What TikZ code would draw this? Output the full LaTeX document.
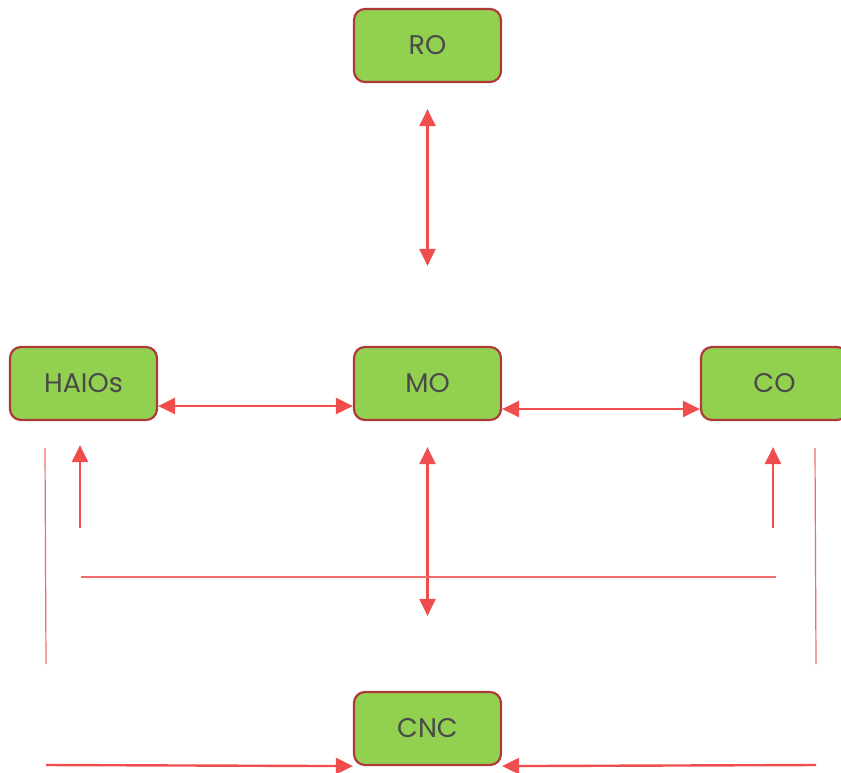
\documentclass[tikz,border=0pt]{standalone}
\usepackage{fontspec}
\setmainfont{Poppins}
\usepackage{xcolor}
\usepackage{tikz}
\usetikzlibrary{arrows.meta,positioning}
\definecolor{boxgreen}{HTML}{92D050}
\definecolor{boxred}{HTML}{B03A3A}
\definecolor{linkred}{HTML}{F04E4E}
\definecolor{thinred}{HTML}{F26A6A}
\definecolor{textgray}{HTML}{4A4A4A}

\begin{document}
\begin{tikzpicture}[x=1pt,y=-1pt,>={Triangle[length=17pt,width=16pt]},
  unit/.style={draw=boxred,line width=2.2pt,fill=boxgreen,rounded corners=11pt,
    minimum width=147pt,minimum height=73pt,text=textgray,font=\fontsize{27}{30}\selectfont},
  link/.style={draw=linkred,line width=2.4pt},
  thin/.style={draw=thinred,line width=1.2pt}]
\useasboundingbox (0,0) rectangle (841,772);
\node[unit] (RO) at (427.5,45.5) {RO};
\node[unit] (HAIOs) at (83.5,383.5) {HAIOs};
\node[unit] (MO) at (427.5,383.5) {MO};
\node[unit] (CO) at (774.5,383.5) {CO};
\node[unit] (CNC) at (427.5,728.5) {CNC};
\coordinate (hbase) at (80,528);
\coordinate (cbase) at (773,528);
\coordinate (busL) at (81,577);
\coordinate (busR) at (776,577);
\coordinate (sideLtop) at (45,448);
\coordinate (sideLbot) at (46,664);
\coordinate (sideRtop) at (815,448);
\coordinate (sideRbot) at (816,664);
\coordinate (feedL) at (46,765);
\coordinate (feedR) at (816,765);
\draw[link,<->,shorten <=26pt,shorten >=80pt] (RO) -- (MO);
\draw[link,<->] ([yshift=-22.5pt]HAIOs.east) -- ([yshift=-22.5pt]MO.west);
\draw[link,<->] ([yshift=-25.5pt]MO.east) -- ([yshift=-25.5pt]CO.west);
\draw[link,<->,shorten <=26pt,shorten >=75pt] (MO) -- (CNC);
\draw[link,->,shorten >=24pt] (hbase) -- (hbase |- HAIOs.south);
\draw[link,->,shorten >=26pt] (cbase) -- (cbase |- CO.south);
\draw[thin] (busL) -- (busR);
\draw[thin] (sideLtop) -- (sideLbot);
\draw[thin] (sideRtop) -- (sideRbot);
\draw[link,->] (feedL) -- (CNC.south west);
\draw[link,->] (feedR) -- (CNC.south east);
\end{tikzpicture}
\end{document}
